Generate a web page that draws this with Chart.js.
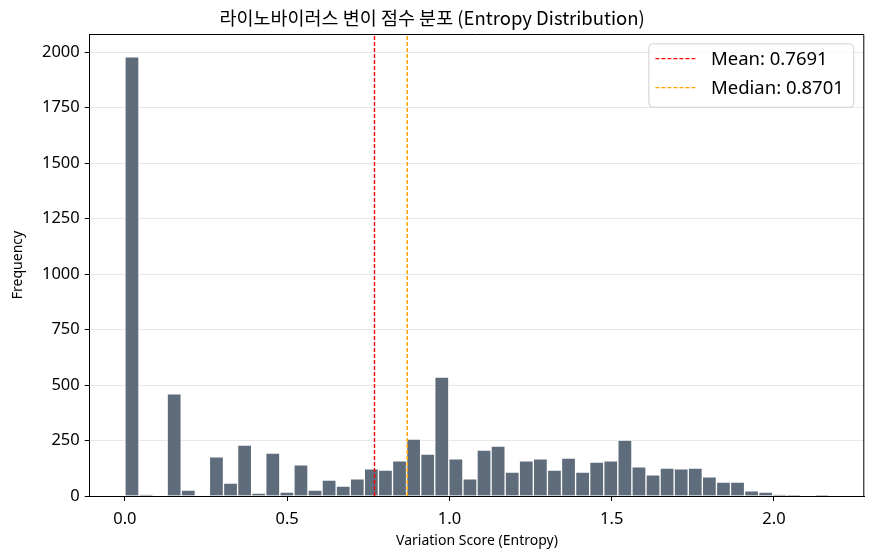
<!DOCTYPE html>
<html><head><meta charset="utf-8">
<script src="https://cdn.jsdelivr.net/npm/chart.js@4.4.0/dist/chart.umd.min.js"></script>
<style>html,body{margin:0;padding:0;background:#fff}canvas{display:block}</style>
</head><body>
<canvas id="c" width="873" height="557"></canvas>
<script>
// ---- data ----
const binMin = 0;
const binMax = 2.17;
const counts = [1980,5,0,460,27,0,176,58,230,13,194,18,140,27,72,45,77,122,117,158,
  257,189,536,167,77,207,225,108,158,167,117,171,108,153,158,252,131,95,126,122,
  126,86,63,63,23,18,5,1,0,1];
const meanValue = 0.7691;
const medianValue = 0.8701;
const xTicks = [0.0, 0.5, 1.0, 1.5, 2.0];
const yTicks = [0, 250, 500, 750, 1000, 1250, 1500, 1750, 2000];
const titleText = '라이노바이러스 변이 점수 분포 (Entropy Distribution)';
const xTitle = 'Variation Score (Entropy)';
const yTitle = 'Frequency';

// ---- build ----
const binW = (binMax - binMin) / counts.length;
const histData = counts.map((c, i) => ({ x: binMin + (i + 0.5) * binW, y: c }));
const yMax = Math.max(...counts) * 1.0517;
const xPad = (binMax - binMin) * 0.05;

const legendAndSpines = {
  id: 'legendAndSpines',
  afterDraw(chart) {
    const ctx = chart.ctx, a = chart.chartArea;
    ctx.save();
    ctx.strokeStyle = '#000'; ctx.lineWidth = 1;
    ctx.beginPath();
    ctx.moveTo(a.left, a.top + 0.5); ctx.lineTo(a.right - 0.5, a.top + 0.5); ctx.lineTo(a.right - 0.5, a.bottom);
    ctx.stroke();
    // legend
    const items = chart.data.datasets.filter(d => d.type === 'line');
    ctx.font = '18.5px "Noto Sans", sans-serif';
    const tw = Math.max(...items.map(d => ctx.measureText(d.label).width));
    const w = 62.6 + tw + 9.5, h = 63.4;
    const right = a.right - 11, top = a.top + 9.3, left = right - w;
    ctx.beginPath();
    ctx.roundRect(left + 0.5, top + 0.5, w, h, 4);
    ctx.fillStyle = 'rgba(255,255,255,0.8)'; ctx.fill();
    ctx.strokeStyle = '#d0d0d0'; ctx.stroke();
    items.forEach((d, i) => {
      const y = top + 15.4 + i * 29;
      ctx.beginPath();
      ctx.setLineDash(d.borderDash); ctx.strokeStyle = d.borderColor; ctx.lineWidth = 1.3;
      ctx.moveTo(left + 7, y); ctx.lineTo(left + 47, y); ctx.stroke();
      ctx.setLineDash([]);
      ctx.fillStyle = '#000'; ctx.textBaseline = 'middle'; ctx.textAlign = 'left';
      ctx.fillText(d.label, left + 62.6, y + 1.5);
    });
    ctx.restore();
  }
};

new Chart(document.getElementById('c'), {
  data: {
    datasets: [
      { type: 'line', label: 'Mean: ' + meanValue.toFixed(4), data: [{x: meanValue, y: 0}, {x: meanValue, y: yMax}],
        borderColor: '#ff0000', borderWidth: 1.4, borderDash: [4, 2], pointRadius: 0, order: 0 },
      { type: 'line', label: 'Median: ' + medianValue.toFixed(4), data: [{x: medianValue, y: 0}, {x: medianValue, y: yMax}],
        borderColor: '#ffa500', borderWidth: 1.5, borderDash: [4, 2], pointRadius: 0, order: 0 },
      { type: 'bar', label: 'hist', data: histData, backgroundColor: 'rgb(94,108,123)',
        borderColor: 'rgba(255,255,255,0.9)', borderWidth: 1, barPercentage: 1, categoryPercentage: 1, order: 2 }
    ]
  },
  options: {
    responsive: false, animation: false, devicePixelRatio: 1,
    layout: { padding: { left: 0, right: 8.7, top: 0, bottom: 0 } },
    plugins: {
      legend: { display: false }, tooltip: { enabled: false },
      title: { display: true, text: titleText, color: '#000',
        font: { family: '"Noto Sans CJK KR", sans-serif', size: 18.5, weight: 'normal' },
        padding: { top: 6.5, bottom: 5.3 } }
    },
    scales: {
      x: { type: 'linear', min: binMin - xPad, max: binMax + xPad, offset: false,
        afterBuildTicks: s => { s.ticks = xTicks.map(v => ({ value: v })); },
        afterFit: s => { s.height = 61; },
        ticks: { callback: v => Number(v).toFixed(1), color: '#000', padding: 8,
          font: { family: '"Noto Sans", sans-serif', size: 16.5 } },
        grid: { offset: false, drawOnChartArea: false, drawTicks: true, tickLength: 5, tickColor: '#000' },
        border: { display: true, color: '#000', width: 1 },
        title: { display: true, text: xTitle, color: '#000',
          font: { family: '"Noto Sans", sans-serif', size: 14 }, padding: { top: 4, bottom: 8 } } },
      y: { min: 0, max: yMax, z: 1,
        afterBuildTicks: s => { s.ticks = yTicks.map(v => ({ value: v })); },
        afterFit: s => { s.width = 89.7; },
        ticks: { callback: v => String(v), color: '#000', padding: 5, font: { family: '"Noto Sans", sans-serif', size: 16.5 } },
        grid: { color: 'rgba(176,176,176,0.3)', lineWidth: 1, drawTicks: true, tickLength: 5, tickColor: '#000' },
        border: { display: true, color: '#000', width: 1 },
        title: { display: true, text: yTitle, color: '#000',
          font: { family: '"Noto Sans", sans-serif', size: 14 }, padding: { top: 10, bottom: 10 } } }
    }
  },
  plugins: [legendAndSpines]
});
</script>
</body></html>
